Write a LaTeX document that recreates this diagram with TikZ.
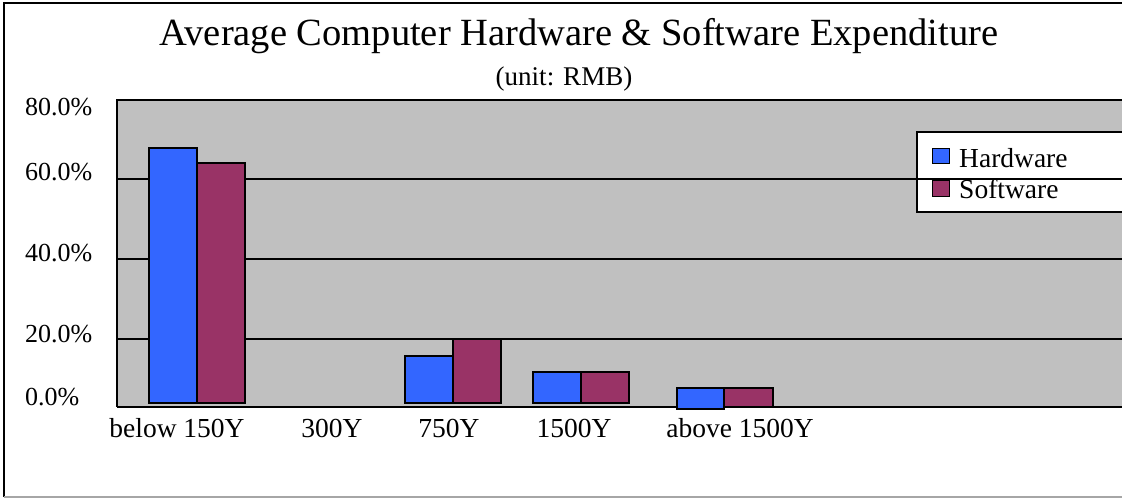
\documentclass[tikz,border=0pt]{standalone}
\usepackage{fontspec}
\setmainfont{Liberation Serif}
\definecolor{hw}{HTML}{3366FF}
\definecolor{sw}{HTML}{993366}
\definecolor{plotbg}{HTML}{C0C0C0}
\begin{document}
\begin{tikzpicture}[x=1pt,y=-1pt,
  bar/.style={draw=black,line width=1.6pt},
  grid/.style={draw=black,line width=1.3pt},
  lab/.style={font=\fontsize{27.5}{30}\selectfont,inner sep=0pt,anchor=base},
  leglab/.style={font=\fontsize{27.5}{30}\selectfont,inner sep=0pt,anchor=base west},
  ylab/.style={font=\fontsize{26}{28}\selectfont,inner sep=0pt,anchor=base west}]
\useasboundingbox (0,0) rectangle (1122,499);
% frame
\draw[black,line width=1.5pt] (4,497) -- (4,3) -- (1122,3);
\draw[gray!70,line width=1.5pt] (4,497) -- (1122,497);
% title
\node[lab,font=\fontsize{38.5}{40}\selectfont] (title) at (579,45) {Average Computer Hardware \& Software Expenditure};
\node[lab,font=\fontsize{27}{29}\selectfont] (unit) at (564,85) {(unit: RMB)};
% plot area
\fill[plotbg] (117,100) rectangle (1122,407);
% legend box
\draw[fill=white,line width=1.5pt] (1122,132) -- (917,132) -- (917,212) -- (1122,212);
% grid
\draw[grid] (117,179) -- (1122,179);
\draw[grid] (117,259) -- (1122,259);
\draw[grid] (117,339) -- (1122,339);
\draw[black,line width=1.5pt] (1122,100) -- (117,100) -- (117,407);
\draw[black,line width=2pt] (117,407) -- (1122,407);
% bars
\draw[bar,fill=hw] (149,403) rectangle (197,148);
\draw[bar,fill=sw] (197,403) rectangle (245,163);
\draw[bar,fill=hw] (405,403) rectangle (453,356);
\draw[bar,fill=sw] (453,403) rectangle (501,339);
\draw[bar,fill=hw] (533,403) rectangle (581,372);
\draw[bar,fill=sw] (581,403) rectangle (629,372);
\draw[bar,fill=hw] (677,409) rectangle (724,388);
\draw[bar,fill=sw] (724,407) rectangle (773,388);
% legend
\draw[bar,line width=1pt,fill=hw] (932,148) rectangle (949,163);
\draw[bar,line width=1pt,fill=sw] (932,180) rectangle (949,196);
\node[leglab] (lhw) at (959,167) {Hardware};
\node[leglab] (lsw) at (959,198) {Software};
% y labels
\node[ylab] (y80) at (25,115) {80.0\%};
\node[ylab] (y60) at (25,180) {60.0\%};
\node[ylab] (y40) at (25,261) {40.0\%};
\node[ylab] (y20) at (25,342) {20.0\%};
\node[ylab] (y0) at (25,405) {0.0\%};
% x labels
\node[lab] (c1) at (177,437) {below 150Y};
\node[lab] (c2) at (332,437) {300Y};
\node[lab] (c3) at (449,437) {750Y};
\node[lab] (c4) at (574,437) {1500Y};
\node[lab] (c5) at (740,437) {above 1500Y};
\end{tikzpicture}
\end{document}
